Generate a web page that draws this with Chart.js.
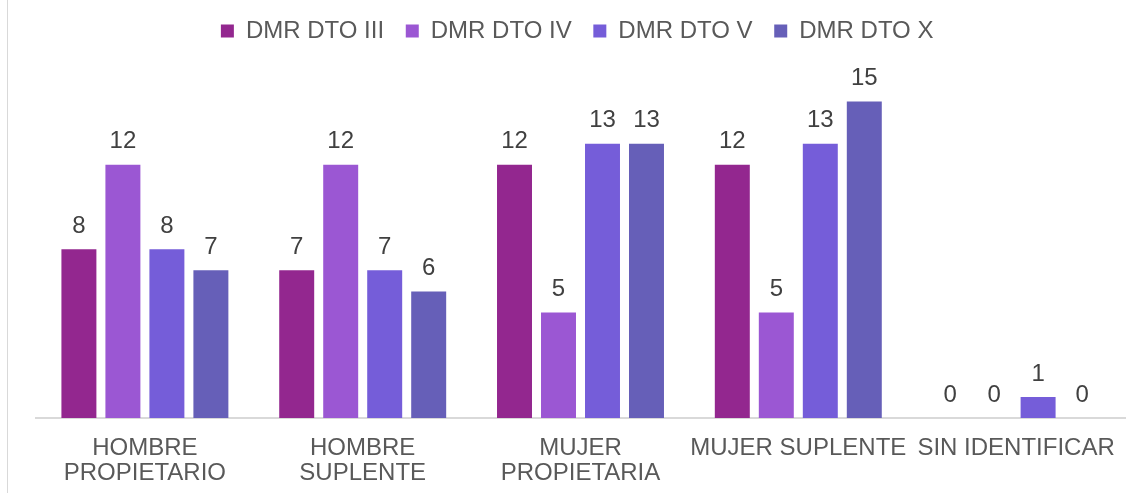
<!DOCTYPE html>
<html>
<head>
<meta charset="utf-8">
<script src="https://cdn.jsdelivr.net/npm/chart.js@4.4.0/dist/chart.umd.min.js"></script>
<style>
  html, body { margin: 0; padding: 0; background: #fff; }
  #wrap { position: relative; width: 1139px; height: 493px; overflow: hidden; }
  #frame { position: absolute; left: 7px; top: 0; width: 1px; height: 493px; background: #d9d9d9; }
  canvas { position: absolute; left: 0; top: 0; }
</style>
</head>
<body>
<div id="wrap">
  <div id="frame"></div>
  <canvas id="chart" width="1139" height="493"></canvas>
</div>
<script>
// ===================== DATA =====================
const categories = [
  ["HOMBRE", "PROPIETARIO"],
  ["HOMBRE", "SUPLENTE"],
  ["MUJER", "PROPIETARIA"],
  "MUJER SUPLENTE",
  "SIN IDENTIFICAR"
];
const seriesNames = ["DMR DTO III", "DMR DTO IV", "DMR DTO V", "DMR DTO X"];
const dtoIII = [8, 7, 12, 12, 0];
const dtoIV = [12, 12, 5, 5, 0];
const dtoV = [8, 7, 13, 13, 1];
const dtoX = [7, 6, 13, 15, 0];
const colors = ["#93278f", "#9b57d3", "#755dd9", "#665fb8"];

const FONT = "'Liberation Sans', Arial, sans-serif";

// ===================== VALUE LABELS =====================
const valueLabels = {
  id: "valueLabels",
  afterDatasetsDraw(chart) {
    const ctx = chart.ctx;
    ctx.save();
    ctx.font = "24px " + FONT;
    ctx.fillStyle = "#404040";
    ctx.textAlign = "center";
    ctx.textBaseline = "middle";
    chart.data.datasets.forEach((ds, i) => {
      chart.getDatasetMeta(i).data.forEach((bar, j) => {
        ctx.fillText(String(ds.data[j]), bar.x, bar.y - 23);
      });
    });
    ctx.restore();
  }
};

const seriesData = [dtoIII, dtoIV, dtoV, dtoX];

new Chart(document.getElementById("chart").getContext("2d"), {
  type: "bar",
  data: {
    labels: categories,
    datasets: seriesNames.map((name, i) => ({
      label: name,
      data: seriesData[i],
      backgroundColor: colors[i],
      categoryPercentage: 0.808,
      barPercentage: 0.795
    }))
  },
  options: {
    responsive: false,
    animation: false,
    layout: { padding: { left: 36, right: 14, top: 4, bottom: -3 } },
    plugins: {
      legend: {
        position: "top",
        labels: {
          color: "#595959",
          font: { size: 24, family: FONT },
          boxWidth: 13,
          boxHeight: 13,
          padding: 15,
          // trailing space widens the gap between items
          generateLabels(chart) {
            return Chart.defaults.plugins.legend.labels.generateLabels(chart).map(l => {
              l.text = l.text + " ";
              return l;
            });
          }
        }
      },
      tooltip: { enabled: false }
    },
    scales: {
      x: {
        grid: { display: false },
        border: { display: true, color: "#d9d9d9", width: 2 },
        ticks: {
          color: "#595959",
          padding: 10,
          maxRotation: 0,
          autoSkip: false,
          font: { size: 24, family: FONT, lineHeight: "25px" }
        }
      },
      y: {
        display: false,
        min: 0,
        max: 17.3
      }
    }
  },
  plugins: [valueLabels]
});
</script>
</body>
</html>
